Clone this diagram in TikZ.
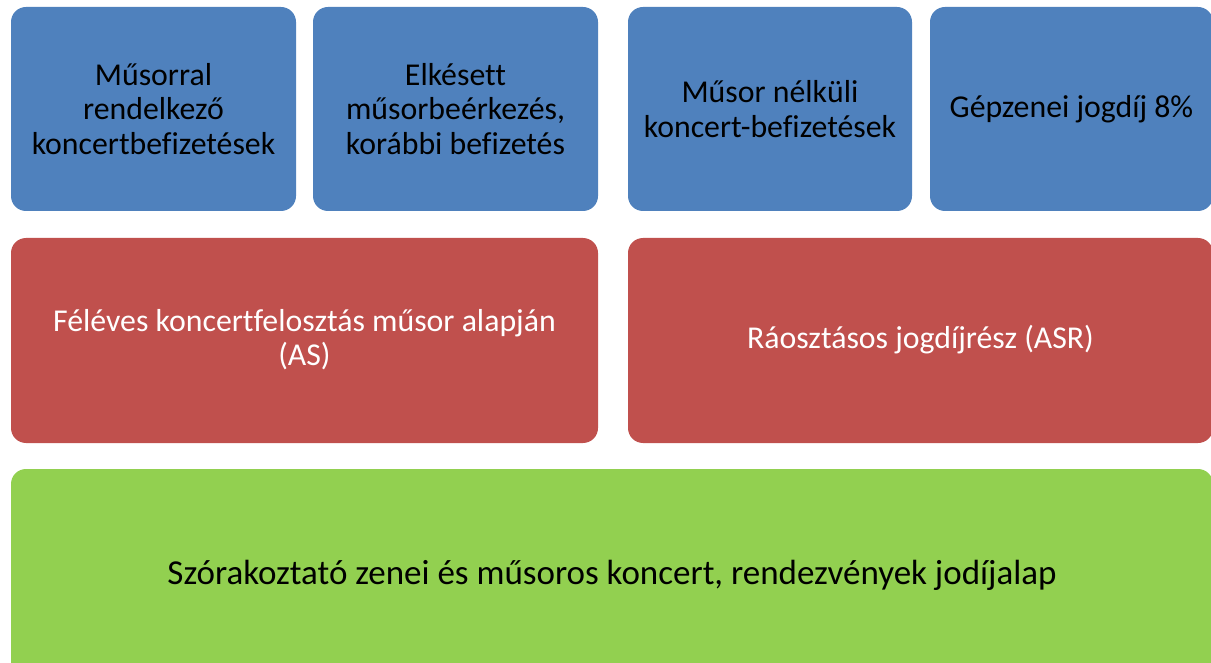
\documentclass[tikz,border=0pt]{standalone}
\usepackage{fontspec}
\setmainfont{Carlito}[Ligatures=NoCommon]
\definecolor{cblue}{HTML}{4F81BD}
\definecolor{cred}{HTML}{C0504D}
\definecolor{cgreen}{HTML}{92D050}
\begin{document}
\begin{tikzpicture}[x=1pt,y=-1pt,
  boxbg/.style={rounded corners=15pt},
  lbl/.style={align=center,inner sep=0pt,font=\fontsize{31.8}{34.2}\selectfont},
  wlbl/.style={lbl,text=white},
  glbl/.style={align=center,inner sep=0pt,font=\fontsize{35}{40}\selectfont}]
\useasboundingbox (0,0) rectangle (1211,663);
\begin{scope}
\clip (0,0) rectangle (1211,663);
\fill[cblue,boxbg] (11,7) rectangle (296,211);
\fill[cblue,boxbg] (313,7) rectangle (598,211);
\fill[cblue,boxbg] (628,7) rectangle (912,211);
\fill[cblue,boxbg] (930,7) rectangle (1213,211);
\fill[cred,boxbg] (11,238) rectangle (598,443);
\fill[cred,boxbg] (628,238) rectangle (1213,443);
\fill[cgreen,boxbg] (11,469) rectangle (1213,681);
\end{scope}
\node[lbl] (b1) at (153.5,109) {Műsorral\\rendelkező\\koncertbefizetések};
\node[lbl] (b2) at (455.5,109) {Elkésett\\műsorbeérkezés,\\korábbi befizetés};
\node[lbl] (b3) at (770,109) {Műsor nélküli\\koncert-befizetések};
\node[lbl] (b4) at (1071.5,109) {Gépzenei jogdíj 8\%};
\node[wlbl] (r1) at (304.5,340) {Féléves koncertfelosztás műsor alapján\\(AS)};
\node[wlbl] (r2) at (920.5,340) {Ráosztásos jogdíjrész (ASR)};
\node[glbl] (g) at (612,575) {Szórakoztató zenei és műsoros koncert, rendezvények jodíjalap};
\end{tikzpicture}
\end{document}
